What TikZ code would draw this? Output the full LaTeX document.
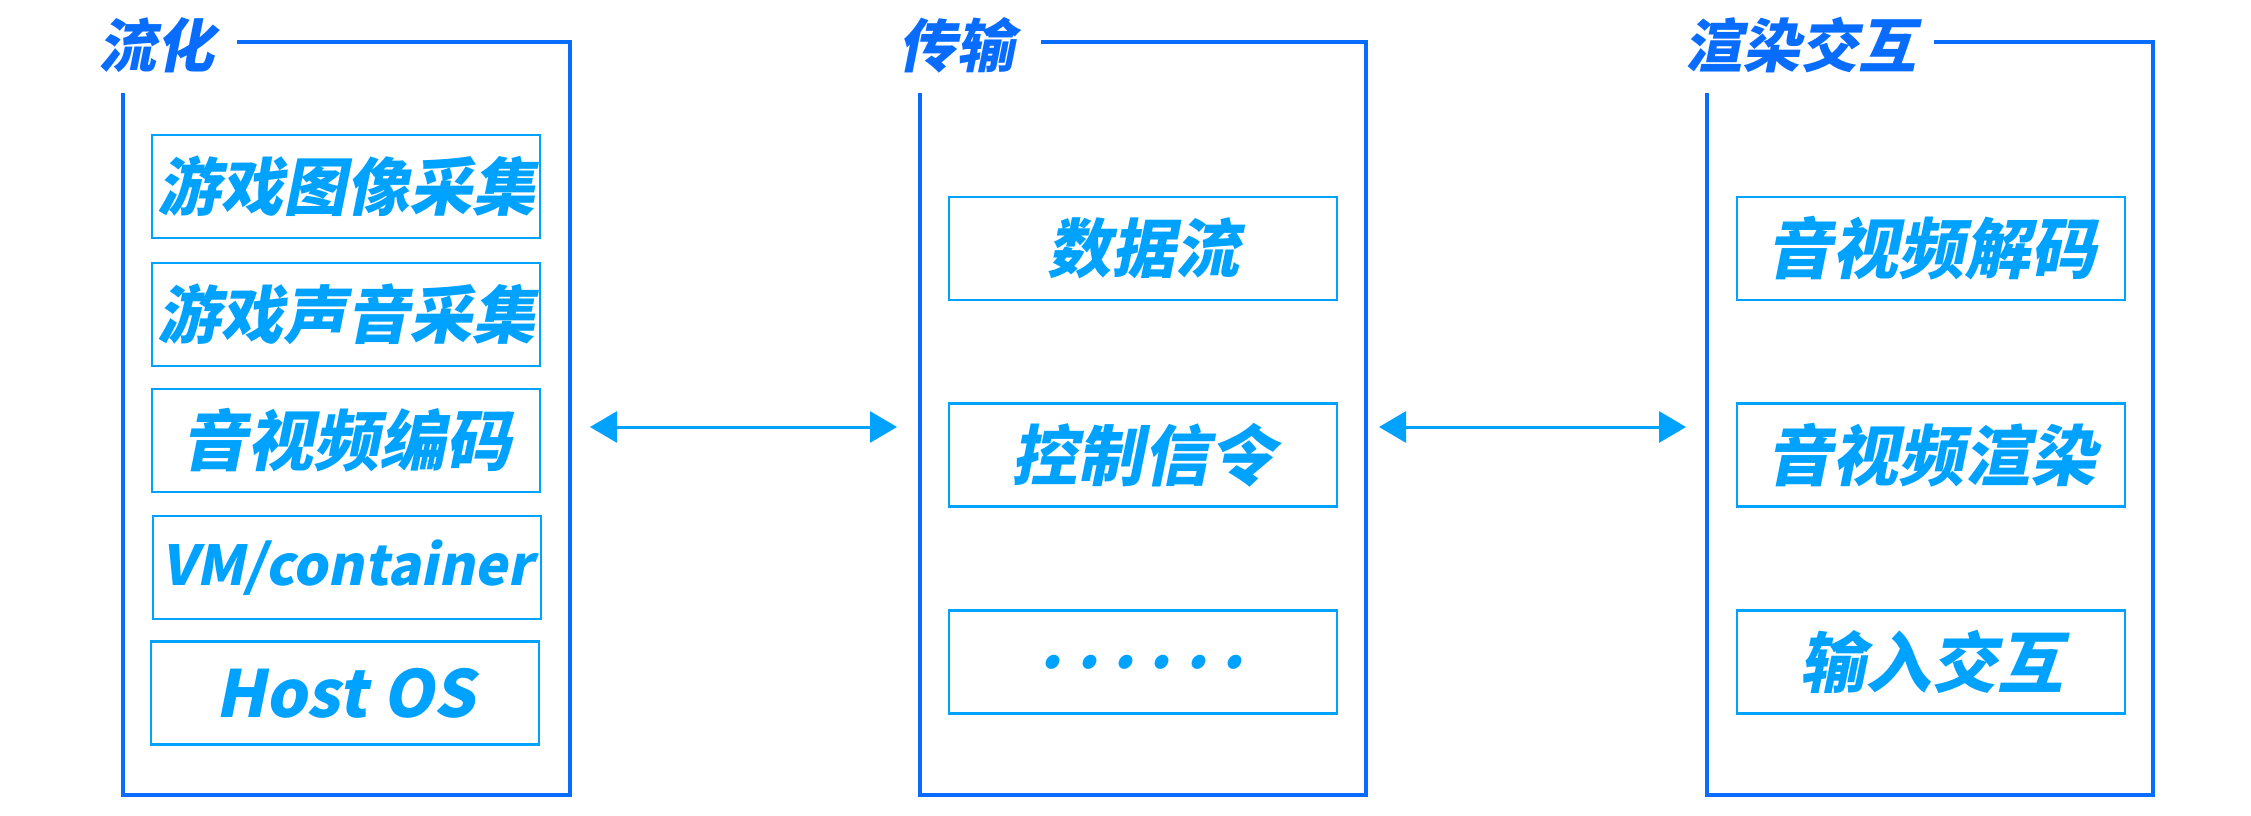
\documentclass[tikz,border=0pt]{standalone}
\usepackage{fontspec}
\usetikzlibrary{arrows.meta}
\newfontfamily\cjk{Noto Sans CJK SC}[FakeSlant=0.2, BoldFeatures={FakeSlant=0.2}]
\definecolor{outerblue}{RGB}{8,108,255}
\definecolor{innerblue}{RGB}{0,162,255}
\newcommand{\dotgap}{\hspace{14pt}}
\begin{document}
\begin{tikzpicture}[x=1pt,y=-1pt,
  panel/.style={draw=outerblue, line width=3.6pt, line join=miter},
  itembox/.style={draw=innerblue, line width=2.2pt, minimum width=388pt, minimum height=103pt, inner sep=0pt, text=innerblue, font=\cjk\bfseries\fontsize{66pt}{66pt}\selectfont},
  sixchar/.style={font=\cjk\bfseries\fontsize{63pt}{63pt}\selectfont},
  title/.style={text=outerblue, inner sep=0pt, font=\cjk\bfseries\fontsize{58pt}{58pt}\selectfont},
  link/.style={draw=innerblue, line width=3pt, {Triangle[length=27pt,width=31pt]}-{Triangle[length=27pt,width=31pt]}}
]
\useasboundingbox (0,0) rectangle (2251,816);
% panels
\draw[panel] (123,93) -- (123,795) -- (570,795) -- (570,42) -- (237,42);
\draw[panel] (920,93) -- (920,795) -- (1366,795) -- (1366,42) -- (1041,42);
\draw[panel] (1707,93) -- (1707,795) -- (2153,795) -- (2153,42) -- (1934,42);
% titles
\node[title] (t1) at (156,45) {流化};
\node[title] (t2) at (956,45) {传输};
\node[title] (t3) at (1800,45) {渲染交互};
% left column
\node[itembox, sixchar] (l1) at (346,186.5) {游戏图像采集};
\node[itembox, sixchar] (l2) at (346,314.5) {游戏声音采集};
\node[itembox] (l3) at (346,440.5) {音视频编码};
\node[itembox, font=\cjk\bfseries\fontsize{55pt}{55pt}\selectfont] (l4) at (347,567.5) {VM/container};
\node[itembox, font=\cjk\bfseries\fontsize{65pt}{65pt}\selectfont] (l5) at (345,693) {Host OS};
% middle column
\node[itembox, font=\cjk\bfseries\fontsize{64pt}{64pt}\selectfont] (m1) at (1143,248.5) {数据流};
\node[itembox] (m2) at (1143,455) {控制信令};
\node[itembox, font=\cjk\bfseries\fontsize{64pt}{64pt}\selectfont] (m3) at (1143,662) {.\dotgap.\dotgap.\dotgap.\dotgap.\dotgap.};
% right column
\node[itembox] (r1) at (1931,248.5) {音视频解码};
\node[itembox] (r2) at (1931,455) {音视频渲染};
\node[itembox] (r3) at (1931,662) {输入交互};
% links
\coordinate (a1l) at (590,427);
\coordinate (a1r) at (897,427);
\coordinate (a2l) at (1379,427);
\coordinate (a2r) at (1686,427);
\draw[link] (a1l) -- (a1r);
\draw[link] (a2l) -- (a2r);
\end{tikzpicture}
\end{document}
